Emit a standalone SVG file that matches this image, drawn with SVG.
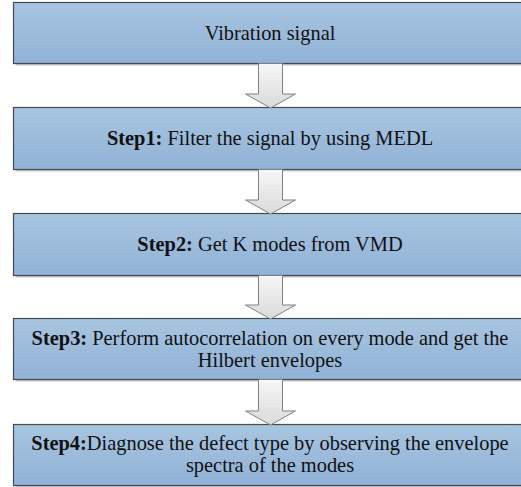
<svg xmlns="http://www.w3.org/2000/svg" width="521" height="487" viewBox="0 0 521 487">
  <defs>
    <linearGradient id="boxGrad" x1="0" y1="0" x2="0" y2="1">
      <stop offset="0" stop-color="#a8c5e0"/>
      <stop offset="1" stop-color="#91b2d7"/>
    </linearGradient>
    <linearGradient id="arrGrad" x1="0" y1="0" x2="0" y2="1">
      <stop offset="0" stop-color="#f7f7f7"/>
      <stop offset="1" stop-color="#dadada"/>
    </linearGradient>
  </defs>
  <style>
    .shadow { fill: #c4c4c4; }
    .box { fill: url(#boxGrad); stroke: #454a52; stroke-width: 1.2; }
    .arrow { fill: url(#arrGrad); stroke: #808080; stroke-width: 1; stroke-linejoin: miter; }
    text { font-family: "Liberation Serif", "Times New Roman", serif; font-size: 20.4px; fill: #111; text-anchor: middle; }
    .b { font-weight: bold; }
  </style>
  <rect width="521" height="487" fill="#ffffff"/>

  <g id="node-vibration">
    <rect class="shadow" x="15.5" y="4.5" width="520" height="61"/>
    <rect class="box" x="13.5" y="2.5" width="520" height="61"/>
    <text x="270" y="40">Vibration signal</text>
  </g>

  <g id="node-step1">
    <rect class="shadow" x="15.5" y="109.5" width="520" height="62"/>
    <rect class="box" x="13.5" y="107.5" width="520" height="62"/>
    <text x="270" y="145"><tspan class="b">Step1:</tspan> Filter the signal by using MEDL</text>
  </g>

  <g id="node-step2">
    <rect class="shadow" x="15.5" y="215.5" width="520" height="62"/>
    <rect class="box" x="13.5" y="213.5" width="520" height="62"/>
    <text x="270" y="251"><tspan class="b">Step2:</tspan> Get K modes from VMD</text>
  </g>

  <g id="node-step3">
    <rect class="shadow" x="15.5" y="320.5" width="520" height="61"/>
    <rect class="box" x="13.5" y="318.5" width="520" height="61"/>
    <text x="270" y="344.5"><tspan class="b">Step3:</tspan> Perform autocorrelation on every mode and get the</text>
    <text x="270" y="367">Hilbert envelopes</text>
  </g>

  <g id="node-step4">
    <rect class="shadow" x="15.5" y="426.5" width="520" height="61"/>
    <rect class="box" x="13.5" y="424.5" width="520" height="61"/>
    <text x="270" y="449.5"><tspan class="b">Step4:</tspan>Diagnose the defect type by observing the envelope</text>
    <text x="270" y="472">spectra of the modes</text>
  </g>

  <g id="connectors">
    <path class="arrow" d="M258.5,63.5 H282.5 V94 H295.5 L270.5,108 L245.5,94 H258.5 Z"/>
    <path class="arrow" d="M258.5,169.5 H282.5 V200 H295.5 L270.5,214 L245.5,200 H258.5 Z"/>
    <path class="arrow" d="M258.5,275.5 H282.5 V305 H295.5 L270.5,319 L245.5,305 H258.5 Z"/>
    <path class="arrow" d="M258.5,379.5 H282.5 V411 H295.5 L270.5,425 L245.5,411 H258.5 Z"/>
  </g>
</svg>
